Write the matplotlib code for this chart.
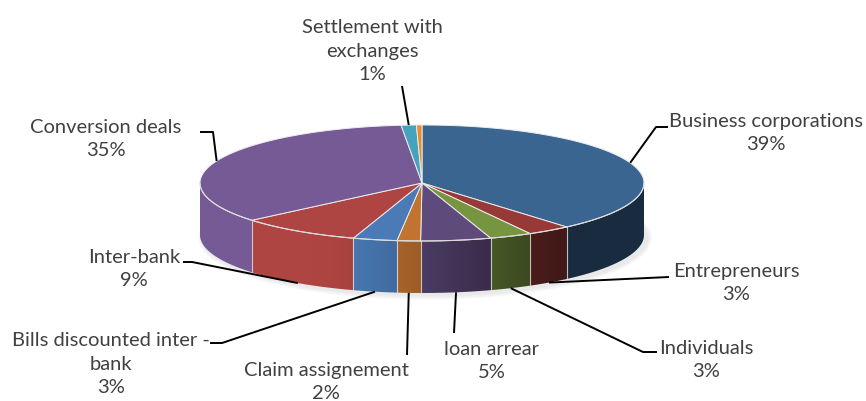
import numpy as np
import matplotlib
matplotlib.use("Agg")
import matplotlib.pyplot as plt
from matplotlib.patches import Polygon, Ellipse
from matplotlib.colors import to_rgb

plt.rcParams['font.family'] = ['Lato', 'DejaVu Sans']

# ---- data (clockwise from 12 o'clock) ----
categories = ["Business corporations", "Entrepreneurs", "Individuals", "loan arrear",
              "Claim assignement", "Bills discounted inter -\nbank", "Inter-bank",
              "Conversion deals", "Settlement with\nexchanges", "Other"]
values = [38.7, 3.2, 3.1, 5.1, 1.7, 3.2, 8.9, 34.6, 1.1, 0.4]
colors = ["#3B6591", "#973A37", "#779441", "#5F4A7C", "#C2732F",
          "#4A7BB7", "#AE4542", "#765A95", "#45A3BE", "#E88D2E"]

# ---- layout (pixel space) ----
W, H = 866, 401
cx, cy, a, b, depth = 422, 183, 222, 58, 52
label_layout = {
    "Business corporations": dict(xy=(766, 133), path=[(656, 127), (668, 127)]),
    "Entrepreneurs": dict(xy=(736, 283), path=[(669, 277)]),
    "Individuals": dict(xy=(706, 360), path=[(643, 352), (657, 352)]),
    "loan arrear": dict(xy=(492, 361), path=[(454, 333)]),
    "Claim assignement": dict(xy=(326, 382), path=[(407, 355)]),
    "Bills discounted inter -\nbank": dict(xy=(111, 364), path=[(222, 343), (210, 343)]),
    "Inter-bank": dict(xy=(134, 269), path=[(192, 262), (183, 262)]),
    "Conversion deals": dict(xy=(106, 139), path=[(213, 132), (200, 132)]),
    "Settlement with\nexchanges": dict(xy=(372, 51), path=[(402, 86)]),
}

fig = plt.figure(figsize=(W / 100, H / 100), dpi=100)
ax = fig.add_axes([0, 0, 1, 1])
ax.set_xlim(0, W)
ax.set_ylim(H, 0)
ax.axis('off')


def top_pt(th):
    return cx + a * np.cos(th), cy - b * np.sin(th)


def shade(th):
    phi = -np.degrees(th)  # 0..180 on front side
    t = np.clip((phi - 45) / 75.0, 0, 1)
    t = t * t * (3 - 2 * t)
    return 0.43 + 0.57 * t


total = sum(values)
angles = [np.pi / 2]
for v in values:
    angles.append(angles[-1] - 2 * np.pi * v / total)

# soft shadow
for k in range(5):
    e = Ellipse((cx + 3, cy + depth + 3), 2 * a + 10 - 2 * k, 2 * b + 8 - 2 * k,
                facecolor='#909090', alpha=0.04, edgecolor='none', zorder=0)
    ax.add_patch(e)

# side wall: colour depends only on x (front half of the cylinder)
xs = np.linspace(cx - a, cx + a, 900)
th_x = -np.arccos(np.clip((xs - cx) / a, -1, 1))  # in [-pi, 0]
img = np.zeros((1, len(xs), 3))
for k, th in enumerate(th_x):
    idx = 0
    for i in range(len(values)):
        t1, t2 = angles[i], angles[i + 1]
        if t2 <= th <= t1:
            idx = i
            break
    img[0, k] = np.clip(np.array(to_rgb(colors[idx])) * shade(th), 0, 1)
tr = np.linspace(0, -np.pi, 300)
upper = [top_pt(t) for t in tr]
lower = [(x, y + depth) for x, y in upper[::-1]]
side = Polygon(upper + lower, closed=True, facecolor='none', edgecolor='none')
ax.add_patch(side)
im = ax.imshow(img, extent=(cx - a, cx + a, cy + depth + b + 2, cy - 2), aspect='auto',
               interpolation='nearest', zorder=2)
im.set_clip_path(side)
ax.set_xlim(0, W)
ax.set_ylim(H, 0)
for i in range(len(values)):
    t = angles[i + 1]
    if -np.pi < t < 0:
        x, y = top_pt(t)
        ax.plot([x, x], [y, y + depth], color='#e6e6e6', lw=0.8, alpha=0.8, zorder=3)

# top wedges
for i, v in enumerate(values):
    ts = np.linspace(angles[i], angles[i + 1], max(3, int(abs(np.degrees(angles[i] - angles[i + 1]))) * 2))
    pts = [(cx, cy)] + [top_pt(t) for t in ts]
    ax.add_patch(Polygon(pts, closed=True, facecolor=colors[i], edgecolor='#ececec',
                         linewidth=0.7, zorder=4))
# front rim highlight
ax.plot(*zip(*upper), color='#dcdcdc', lw=0.8, zorder=5)

# labels and leader lines
for i, name in enumerate(categories):
    if name not in label_layout:
        continue
    lay = label_layout[name]
    mid = (angles[i] + angles[i + 1]) / 2
    x0, y0 = top_pt(mid)
    if np.sin(mid) < 0:
        y0 += depth
    pts = [(x0, y0)] + lay['path']
    ax.plot([p[0] for p in pts], [p[1] for p in pts], color='black', lw=1.4, zorder=6,
            solid_capstyle='butt')
    pct = f"{round(values[i] / total * 100):.0f}%"
    ax.text(lay['xy'][0], lay['xy'][1], f"{name}\n{pct}", ha='center', va='center',
            fontsize=14.5, color='#404040', linespacing=1.48, zorder=7)

fig.savefig("out.png", dpi=100)
